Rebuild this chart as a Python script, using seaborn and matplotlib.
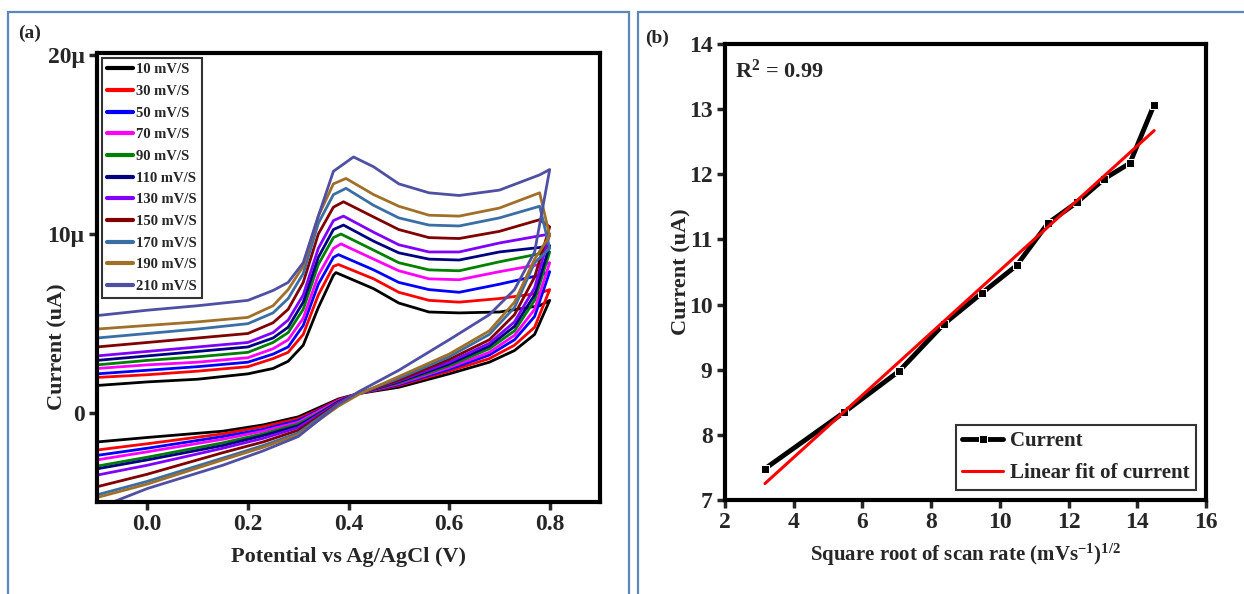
import numpy as np
import pandas as pd
import matplotlib.pyplot as plt
import seaborn as sns
from matplotlib.patches import Rectangle

# --- data ---
scan_rates = [10, 30, 50, 70, 90, 110, 130, 150, 170, 190, 210]
scan_labels = [f"{r} mV/S" for r in scan_rates]
cv_colors = ['#000000', '#ff0000', '#0000ff', '#ff00ff', '#008000', '#000080',
             '#8000ff', '#800000', '#3a6ea5', '#a0702a', '#4f4fa3']

# anodic (forward) sweep, potential in V, current in uA
fwd_potential = [-0.1, 0.0, 0.1, 0.2, 0.25, 0.28, 0.31, 0.34, 0.37, 0.45, 0.5, 0.56, 0.62, 0.7, 0.78, 0.8]
fwd_current = [
    [1.55, 1.75, 1.9, 2.2, 2.5, 2.9, 3.8, 5.9, 7.7, 6.95, 6.15, 5.65, 5.6, 5.65, 6.0, 6.3],        # 10
    [2.0, 2.15, 2.35, 2.6, 3.05, 3.4, 4.4, 6.6, 8.2, 7.5, 6.75, 6.3, 6.2, 6.4, 6.7, 6.9],         # 30
    [2.2, 2.4, 2.6, 2.85, 3.3, 3.7, 4.9, 7.2, 8.7, 8.0, 7.3, 6.9, 6.75, 7.2, 7.7, 7.9],          # 50
    [2.5, 2.7, 2.85, 3.1, 3.6, 4.1, 5.3, 7.7, 9.2, 8.6, 7.95, 7.5, 7.45, 7.9, 8.3, 8.4],         # 70
    [2.7, 2.95, 3.15, 3.4, 3.95, 4.5, 5.8, 8.3, 9.8, 9.1, 8.4, 8.0, 7.95, 8.45, 8.9, 9.0],       # 90
    [2.95, 3.2, 3.45, 3.7, 4.2, 4.8, 6.2, 8.7, 10.25, 9.6, 8.95, 8.6, 8.55, 9.0, 9.25, 9.35],    # 110
    [3.2, 3.45, 3.7, 3.95, 4.5, 5.2, 6.6, 9.2, 10.75, 10.1, 9.4, 9.0, 9.0, 9.5, 9.9, 10.0],      # 130
    [3.7, 3.95, 4.2, 4.45, 5.05, 5.8, 7.3, 10.0, 11.5, 10.95, 10.25, 9.8, 9.75, 10.15, 10.8, 10.4],  # 150
    [4.2, 4.45, 4.7, 5.0, 5.6, 6.4, 7.8, 10.6, 12.2, 11.6, 10.9, 10.5, 10.45, 10.9, 11.55, 9.2],     # 170
    [4.7, 4.9, 5.1, 5.35, 6.0, 6.9, 8.2, 11.0, 12.8, 12.2, 11.55, 11.05, 11.0, 11.45, 12.3, 9.9],    # 190
    [5.45, 5.75, 6.0, 6.3, 6.85, 7.3, 8.4, 11.0, 13.5, 13.75, 12.8, 12.3, 12.15, 12.45, 13.3, 13.6], # 210
]
peak_potential = [0.375, 0.38, 0.38, 0.385, 0.385, 0.39, 0.39, 0.39, 0.395, 0.395, 0.41]
peak_current_cv = [7.85, 8.3, 8.85, 9.45, 10.0, 10.5, 11.0, 11.8, 12.55, 13.1, 14.3]

# cathodic (reverse) sweep
rev_potential = [0.77, 0.73, 0.68, 0.6, 0.5, 0.42, 0.38, 0.34, 0.3, 0.23, 0.15, 0.0, -0.1]
rev_current = [
    [4.4, 3.5, 2.85, 2.2, 1.45, 1.1, 0.8, 0.3, -0.2, -0.65, -1.0, -1.35, -1.6],
    [4.8, 3.8, 3.05, 2.35, 1.55, 1.1, 0.75, 0.2, -0.3, -0.75, -1.15, -1.7, -2.05],
    [5.4, 4.1, 3.25, 2.45, 1.6, 1.1, 0.7, 0.15, -0.4, -0.9, -1.3, -1.95, -2.35],
    [5.8, 4.35, 3.4, 2.55, 1.65, 1.1, 0.7, 0.1, -0.5, -1.0, -1.45, -2.15, -2.6],
    [6.3, 4.6, 3.6, 2.65, 1.7, 1.1, 0.65, 0.0, -0.6, -1.15, -1.65, -2.45, -2.95],
    [6.6, 4.85, 3.75, 2.75, 1.75, 1.1, 0.65, -0.05, -0.7, -1.25, -1.8, -2.6, -3.1],
    [7.0, 5.1, 3.9, 2.85, 1.8, 1.1, 0.6, -0.1, -0.8, -1.4, -1.95, -2.9, -3.45],
    [7.6, 5.5, 4.1, 3.0, 1.85, 1.1, 0.55, -0.2, -0.95, -1.6, -2.2, -3.4, -4.1],
    [8.4, 5.9, 4.4, 3.15, 1.95, 1.1, 0.5, -0.3, -1.1, -1.8, -2.5, -3.8, -4.55],
    [8.6, 6.2, 4.6, 3.3, 2.05, 1.05, 0.4, -0.4, -1.2, -1.9, -2.6, -3.95, -4.7],
    [9.0, 6.9, 5.5, 4.1, 2.4, 1.2, 0.5, -0.4, -1.3, -2.1, -2.9, -4.2, -5.3],
]

# panel (b): peak current vs sqrt(scan rate)
peak_current_b = [7.48, 8.35, 8.98, 9.70, 10.18, 10.60, 11.25, 11.57, 11.93, 12.17, 13.07]

# --- build long-form table for the CV loops ---
rows = []
for i, lab in enumerate(scan_labels):
    fwd = sorted(zip(fwd_potential + [peak_potential[i]], fwd_current[i] + [peak_current_cv[i]]))
    loop = fwd + list(zip(rev_potential, rev_current[i]))
    for k, (e, c) in enumerate(loop):
        rows.append({'scan': lab, 'step': k, 'potential': e, 'current': c})
cv_df = pd.DataFrame(rows)

fit_df = pd.DataFrame({'sqrt_rate': np.sqrt(scan_rates), 'current': peak_current_b})

# --- figure ---
sns.set_style('ticks')
plt.rcParams['font.family'] = ['Liberation Serif', 'DejaVu Serif']
plt.rcParams['font.weight'] = 'bold'
plt.rcParams['mathtext.fontset'] = 'custom'
plt.rcParams['mathtext.rm'] = 'Liberation Serif:bold'
plt.rcParams['mathtext.it'] = 'Liberation Serif:bold'
plt.rcParams['mathtext.bf'] = 'Liberation Serif:bold'

W, H = 1244, 594
fig = plt.figure(figsize=(W / 100, H / 100), dpi=100)

def px_axes(left, top, right, bottom):
    return fig.add_axes([left / W, 1 - bottom / H, (right - left) / W, (bottom - top) / H])

ax1 = px_axes(97, 53, 600, 502)
ax2 = px_axes(725, 44, 1206, 500)

# panel frames
border = '#5b87ba'
fig.add_artist(Rectangle((8 / W, -0.1), (629 - 8) / W, 1.1 - 12 / H, fill=False,
                         edgecolor=border, linewidth=1.6, transform=fig.transFigure))
fig.add_artist(Rectangle((638 / W, -0.1), 0.5, 1.1 - 12 / H, fill=False,
                         edgecolor=border, linewidth=1.6, transform=fig.transFigure))

# (a) cyclic voltammograms
sns.lineplot(data=cv_df, x='potential', y='current', hue='scan', hue_order=scan_labels,
             palette=cv_colors, sort=False, estimator=None, linewidth=2.0, ax=ax1)
ax1.set_xlim(-0.1, 0.9)
ax1.set_ylim(-4.95, 20.1)
ax1.set_xticks([0.0, 0.2, 0.4, 0.6, 0.8])
ax1.set_xticklabels(['0.0', '0.2', '0.4', '0.6', '0.8'])
ax1.set_yticks([0, 10, 20])
ax1.set_yticklabels(['0', '10\u03bc', '20\u03bc'])
ax1.set_xlabel('Potential vs Ag/AgCl (V)', fontsize=16, fontweight='bold', labelpad=8)
ax1.set_ylabel('Current (uA)', fontsize=16, fontweight='bold')
ax1.yaxis.set_label_coords(-0.058, 0.345)
leg = ax1.legend(loc='upper left', fontsize=10.5, frameon=True, fancybox=False,
                 edgecolor='black', handlelength=1.8, handletextpad=0.15,
                 labelspacing=0.58, borderpad=0.35, borderaxespad=0.35)
leg.get_frame().set_linewidth(1.5)
for h in leg.legend_handles:
    h.set_linewidth(3)
for t in leg.get_texts():
    t.set_fontweight('bold')

# (b) peak current vs sqrt scan rate
sns.lineplot(data=fit_df, x='sqrt_rate', y='current', color='black', marker='s',
             markersize=6, linewidth=3.5, label='Current', ax=ax2)
sns.regplot(data=fit_df, x='sqrt_rate', y='current', scatter=False, ci=None, color='red',
            label='Linear fit of current', line_kws={'linewidth': 2.2}, ax=ax2)
ax2.set_xlim(2, 16)
ax2.set_ylim(7, 14)
ax2.set_xticks(range(2, 17, 2))
ax2.set_yticks(range(7, 15))
ax2.set_xlabel('Square root of scan rate (mVs$^{-1}$)$^{1/2}$', fontsize=15, fontweight='bold', labelpad=6)
ax2.set_ylabel('Current (uA)', fontsize=16, fontweight='bold')
ax2.yaxis.set_label_coords(-0.07, 0.5)
ax2.text(0.02, 0.965, 'R$^2$ = 0.99', transform=ax2.transAxes, fontsize=16,
         fontweight='bold', va='top', ha='left')
leg2 = ax2.legend(loc='lower right', fontsize=15, frameon=True, fancybox=False,
                  edgecolor='black', handlelength=2.0, handletextpad=0.3,
                  labelspacing=0.6, borderpad=0.3, borderaxespad=0.5)
leg2.get_frame().set_linewidth(1.5)
for t in leg2.get_texts():
    t.set_fontweight('bold')

for ax in (ax1, ax2):
    for side in ax.spines.values():
        side.set_linewidth(3)
        side.set_color('black')
    ax.tick_params(axis='both', direction='out', length=6, width=2.5, labelsize=17,
                   pad=3, top=False, right=False)
    for lab in ax.get_xticklabels() + ax.get_yticklabels():
        lab.set_fontweight('bold')

fig.text(18 / W, 1 - 33 / H, '(a)', fontsize=14, fontweight='bold', va='center')
fig.text(645 / W, 1 - 38 / H, '(b)', fontsize=14, fontweight='bold', va='center')

fig.savefig('out.png', dpi=100)
